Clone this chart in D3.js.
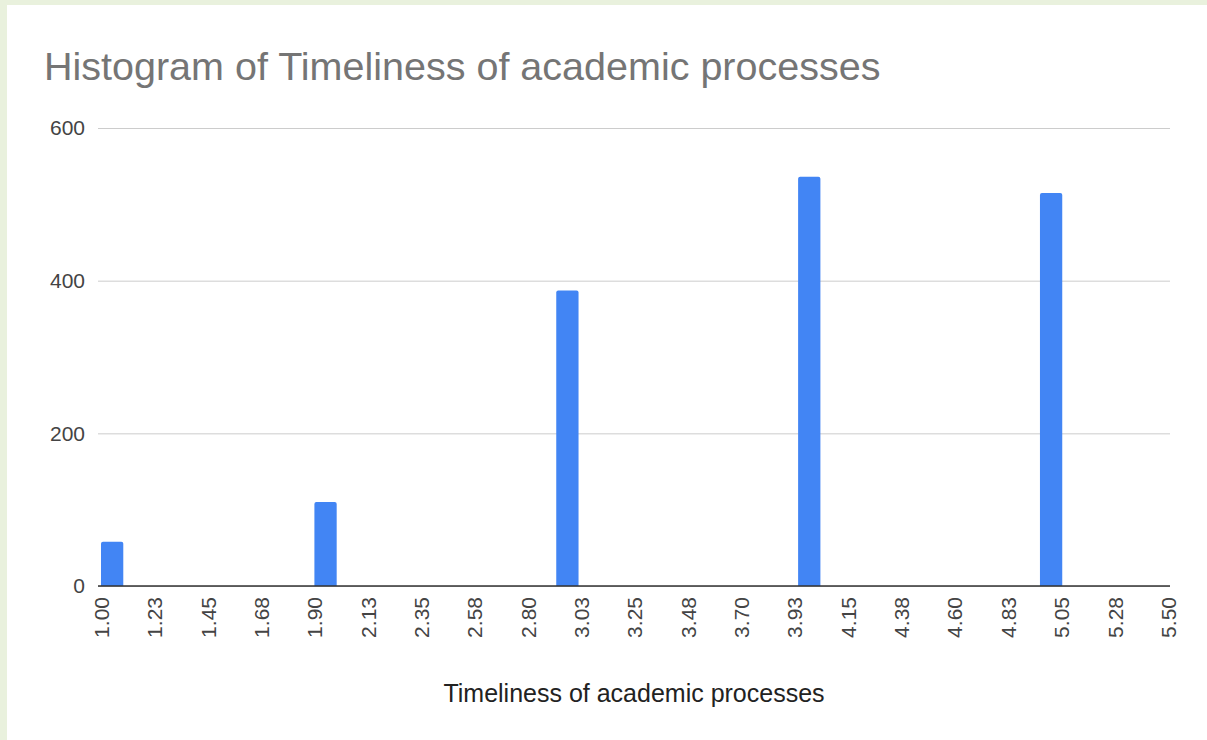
<!DOCTYPE html>
<html>
<head>
<meta charset="utf-8">
<script src="https://cdn.jsdelivr.net/npm/d3@7"></script>
<style>
  body { margin: 0; background: #e9f1dd; }
  svg { display: block; }
</style>
</head>
<body>
<svg id="chart" width="1207" height="740"></svg>
<script>
// histogram buckets
var binStart = [1.00, 1.90, 2.92, 3.94, 4.96],
    binWidth = 0.094,
    counts = [58, 110, 387, 536, 515],
    xTicks = d3.range(21).map(function (i) { return 1 + i * 0.225; }),
    yTicks = [0, 200, 400, 600];

var svg = d3.select("#chart");
var font = "Liberation Sans, Arial, sans-serif";

// white card, green edge shows left and top
svg.append("rect").attr("x", 7).attr("y", 5).attr("width", 1200).attr("height", 735).attr("fill", "#fff");

var x = d3.scaleLinear().domain([1, 5.5]).range([101, 1168]),
    y = d3.scaleLinear().domain([0, 600]).range([586, 128]);

svg.append("text")
    .attr("x", 44).attr("y", 80)
    .attr("font-family", font)
    .attr("font-size", 39.5)
    .attr("fill", "#757575")
    .text("Histogram of Timeliness of academic processes");

// gridlines + y labels
var yAxis = svg.append("g")
    .attr("transform", "translate(98,0)")
    .call(d3.axisLeft(y).tickValues(yTicks).tickSize(-1072).tickFormat(d3.format("d")));
yAxis.select(".domain").remove();
yAxis.selectAll(".tick line").attr("stroke", "#cccccc").attr("stroke-width", 1);
yAxis.selectAll(".tick text")
    .attr("x", -13)
    .attr("font-family", font)
    .attr("font-size", 21)
    .attr("fill", "#444");

svg.append("g").selectAll("path")
    .data(counts)
    .enter().append("path")
    .attr("fill", "#4285f4")
    .attr("d", function (d, i) {
        var x0 = x(binStart[i]), x1 = x(binStart[i] + binWidth),
            y0 = y(0), y1 = y(d), r = 2;
        return "M" + x0 + "," + y0 + "V" + (y1 + r) + "Q" + x0 + "," + y1 + " " + (x0 + r) + "," + y1 +
            "H" + (x1 - r) + "Q" + x1 + "," + y1 + " " + x1 + "," + (y1 + r) + "V" + y0 + "Z";
    });

// x axis
var xAxis = svg.append("g")
    .attr("transform", "translate(0,586)")
    .call(d3.axisBottom(x).tickValues(xTicks).tickSize(0)
        .tickFormat(function (d) { return d3.format(".2f")(Math.round(d * 100 + 1e-6) / 100); }));
xAxis.select(".domain").attr("stroke", "#333").attr("stroke-width", 1.5).attr("d", "M98,0H1170");
xAxis.selectAll(".tick text")
    .attr("transform", "rotate(-90)")
    .attr("x", -11).attr("y", 0).attr("dy", "0.35em")
    .attr("text-anchor", "end")
    .attr("font-family", font)
    .attr("font-size", 21)
    .attr("fill", "#444");

svg.append("text")
    .attr("x", 634).attr("y", 702)
    .attr("text-anchor", "middle")
    .attr("font-family", font)
    .attr("font-size", 25)
    .attr("fill", "#222")
    .text("Timeliness of academic processes");
</script>
</body>
</html>
